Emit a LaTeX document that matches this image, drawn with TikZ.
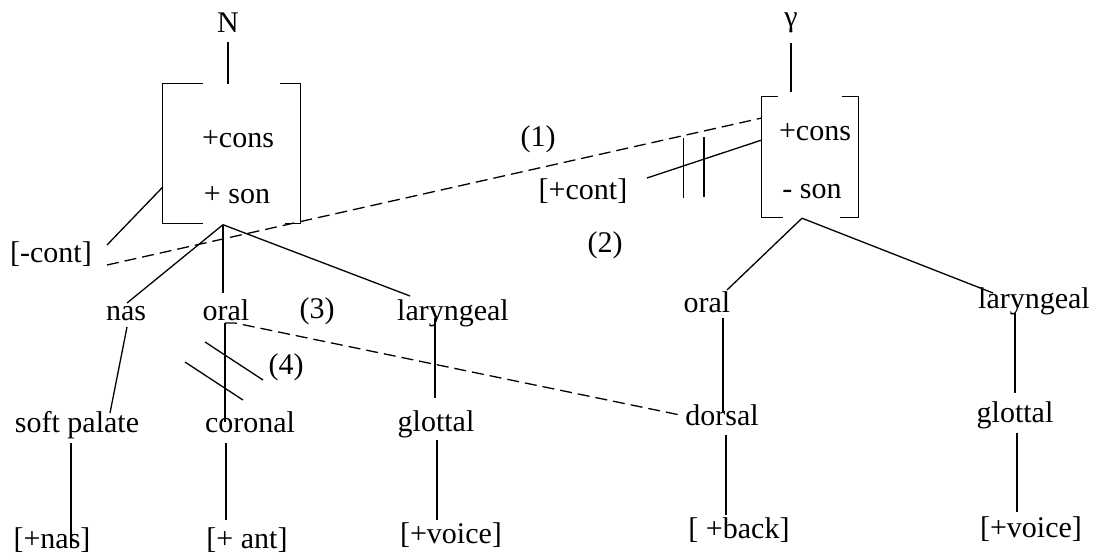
\documentclass[tikz,border=0pt]{standalone}
\usepackage{fontspec}
\setmainfont{Liberation Serif}
\usetikzlibrary{positioning,calc}

\begin{document}
\begin{tikzpicture}[
  x=1pt, y=-1pt,
  font=\fontsize{30}{32}\selectfont,
  lbl/.style={inner sep=0pt, anchor=base},
  mat/.style={inner sep=0pt, draw=none},
  ln/.style={line width=1.3pt, black},
  dln/.style={ln, dash pattern=on 12pt off 6pt},
  cutmark/.style={ln}
]
\useasboundingbox (0,0) rectangle (1095,557);
% ----- left segment: N -----
\node[lbl] (N) at (228,32) {N};
\node[mat, minimum width=137pt, minimum height=139pt] (Lmat) at (231.5,153.5) {};
\node[lbl] (lcons) at (238,147) {+cons};
\node[lbl] (lson) at (237,203) {+ son};
\draw[ln] ([xshift=40pt]Lmat.north west) -| (Lmat.south west) -- ++(40pt,0);
\draw[ln] ([xshift=-20pt]Lmat.north east) -- (Lmat.north east) -- (Lmat.south east) -- ++(-15pt,0);
\draw[ln] ([yshift=-10pt]N.base) -- ([xshift=-3.5pt]Lmat.north);
\node[lbl] (mcont) at (51,262) {[-cont]};
\draw[ln] ([yshift=-33.5pt]Lmat.west) -- ([xshift=56pt,yshift=17pt]mcont.base);
% ----- right segment: gamma -----
\node[lbl] (G) at (791,26) {γ};
\node[mat, minimum width=96pt, minimum height=120pt] (Rmat) at (810,157) {};
\node[lbl] (rcons) at (815,140) {+cons};
\node[lbl] (rson) at (812,198) {- son};
\draw[ln] ([xshift=16pt]Rmat.north west) -| (Rmat.south west) -- ++(21pt,0);
\draw[ln] ([xshift=-16pt]Rmat.north east) -- (Rmat.north east) -- (Rmat.south east) -- ++(-18pt,0);
\draw[ln] ([yshift=-17pt]G.base) -- ([xshift=-19pt,yshift=5pt]Rmat.north);
\node[lbl] (pcont) at (583,199) {[+cont]};
\draw[ln] ([xshift=64pt,yshift=21pt]pcont.base) -- ([yshift=17pt]Rmat.west)
  coordinate[pos=0.319] (cut1) coordinate[pos=0.496] (cut2);
\draw[cutmark] ([yshift=28pt]cut1) -- ([yshift=-32pt]cut1);
\draw[cutmark] ([yshift=22pt]cut2) -- ([yshift=-38pt]cut2);
% ----- (1) spreading -----
\draw[dln] ([xshift=56pt,yshift=-3pt]mcont.base) -- ([yshift=39pt]Rmat.west);
\node[lbl] (one) at (538,146) {(1)};
\node[lbl] (two) at (605,252) {(2)};
% ----- left tree -----
\coordinate (Lroot) at ([xshift=-8.5pt,yshift=-1.5pt]Lmat.south);
\node[lbl] (nasL) at (126,320) {nas};
\node[lbl] (oralL) at (226,320) {oral};
\node[lbl] (three) at (317,318) {(3)};
\node[lbl] (larL) at (453,320) {laryngeal};
\draw[ln] (Lroot) -- ([xshift=1pt,yshift=17pt]nasL.base);
\draw[ln] (Lroot) -- ([xshift=-3pt,yshift=27pt]oralL.base);
\draw[ln] (Lroot) -- ([xshift=-43pt,yshift=24pt]larL.base);
\node[lbl] (spal) at (77,432) {soft palate};
\node[lbl] (cor) at (250,432) {coronal};
\node[lbl] (glotL) at (436,431) {glottal};
\draw[ln] ([xshift=1pt,yshift=-7pt]nasL.base) -- ([xshift=33pt,yshift=19pt]spal.base);
\draw[ln] ([xshift=-1pt,yshift=-3pt]oralL.base) -- ([xshift=-25pt,yshift=10pt]cor.base)
  coordinate[pos=0.324] (cut3) coordinate[pos=0.659] (cut4);
\draw[ln] ([xshift=-18pt,yshift=2pt]larL.base) -- ([xshift=-1pt,yshift=33pt]glotL.base);
\draw[cutmark] ($(cut3)+(-20,-13.1)$) -- ($(cut3)+(38,24.9)$);
\draw[cutmark] ($(cut4)+(-40,-26.2)$) -- ($(cut4)+(18,11.8)$);
\node[lbl] (four) at (286,374) {(4)};
\node[lbl] (nasF) at (52,548) {[+nas]};
\node[lbl] (ant) at (247,548) {[+ ant]};
\node[lbl] (voiceL) at (451,543) {[+voice]};
\draw[ln] ([xshift=-6pt,yshift=-11pt]spal.base) -- ([xshift=19pt,yshift=1pt]nasF.base);
\draw[ln] ([xshift=-24pt,yshift=-11pt]cor.base) -- ([xshift=-21pt,yshift=28pt]ant.base);
\draw[ln] ([xshift=1pt,yshift=-9pt]glotL.base) -- ([xshift=-14pt,yshift=23pt]voiceL.base);
% ----- right tree -----
\coordinate (Rroot) at ([xshift=-8pt,yshift=-1pt]Rmat.south);
\node[lbl] (oralR) at (707,312) {oral};
\node[lbl] (larR) at (1034,308) {laryngeal};
\draw[ln] (Rroot) -- ([xshift=20pt,yshift=22pt]oralR.base);
\draw[ln] (Rroot) -- ([xshift=-41pt,yshift=15pt]larR.base);
\node[lbl] (dors) at (722,425) {dorsal};
\node[lbl] (glotR) at (1015,422) {glottal};
\draw[ln] ([xshift=16pt,yshift=-6pt]oralR.base) -- ([xshift=1pt,yshift=12pt]dors.base);
\draw[ln] ([xshift=-19pt,yshift=-5pt]larR.base) -- ([xshift=0pt,yshift=29pt]glotR.base);
\node[lbl] (back) at (739,538) {[ +back]};
\node[lbl] (voiceR) at (1031,537) {[+voice]};
\draw[ln] ([xshift=4pt,yshift=-10pt]dors.base) -- ([xshift=-13pt,yshift=23pt]back.base);
\draw[ln] ([xshift=2pt,yshift=-11pt]glotR.base) -- ([xshift=-14pt,yshift=25pt]voiceR.base);
% ----- (3) spreading -----
\draw[dln] ([xshift=-1pt,yshift=-3pt]oralL.base) -- ++(10,0) -- ([xshift=-42pt,yshift=10pt]dors.base);
\end{tikzpicture}
\end{document}
